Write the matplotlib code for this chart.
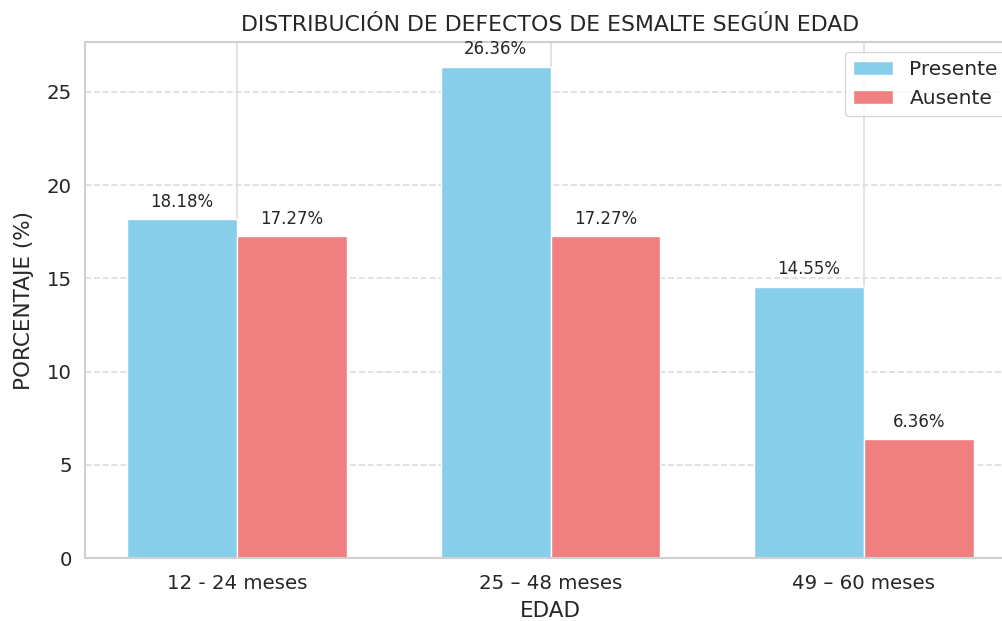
import numpy as np
import matplotlib.pyplot as plt
import seaborn as sns

edades = ['12 - 24 meses', '25 – 48 meses', '49 – 60 meses']
presente = [18.18, 26.36, 14.55]
ausente = [17.27, 17.27, 6.36]

sns.set_theme(style='whitegrid')
plt.rcParams['font.family'] = ['DejaVu Sans']

fig = plt.figure(figsize=(10.03, 6.21), dpi=100)
ax = fig.add_axes([85 / 1003, 63 / 621, 931 / 1003, 516 / 621])

x = np.arange(len(edades))
w = 0.35
b1 = ax.bar(x - w / 2, presente, w, label='Presente', color='skyblue', edgecolor='white')
b2 = ax.bar(x + w / 2, ausente, w, label='Ausente', color='lightcoral', edgecolor='white')

for bars in (b1, b2):
    for bar in bars:
        h = bar.get_height()
        ax.annotate(f'{h:.2f}%', (bar.get_x() + bar.get_width() / 2, h),
                    xytext=(0, 6), textcoords='offset points',
                    ha='center', va='bottom', fontsize=12, color='.15')

ax.set_xticks(x)
ax.set_xticklabels(edades, fontsize=14.2)
ax.tick_params(axis='y', labelsize=14.2)
ax.tick_params(axis='x', pad=plt.rcParams['xtick.major.pad'] + 2)
ax.set_xlabel('EDAD', fontsize=15.5, labelpad=5.5)
ax.set_ylabel('PORCENTAJE (%)', fontsize=15.5, labelpad=9)
ax.set_title('DISTRIBUCIÓN DE DEFECTOS DE ESMALTE SEGÚN EDAD', fontsize=15.8, pad=8)
ax.grid(axis='y', linestyle='--', linewidth=1.2, color='#dddddd')
ax.grid(axis='x', linestyle='-', linewidth=1.2, color='#dddddd')
for s in ax.spines.values():
    s.set_linewidth(1.5)
    s.set_color('#d0d0d0')
ax.legend(fontsize=14.5, loc='upper right')

fig.savefig('out.png', dpi=100)
